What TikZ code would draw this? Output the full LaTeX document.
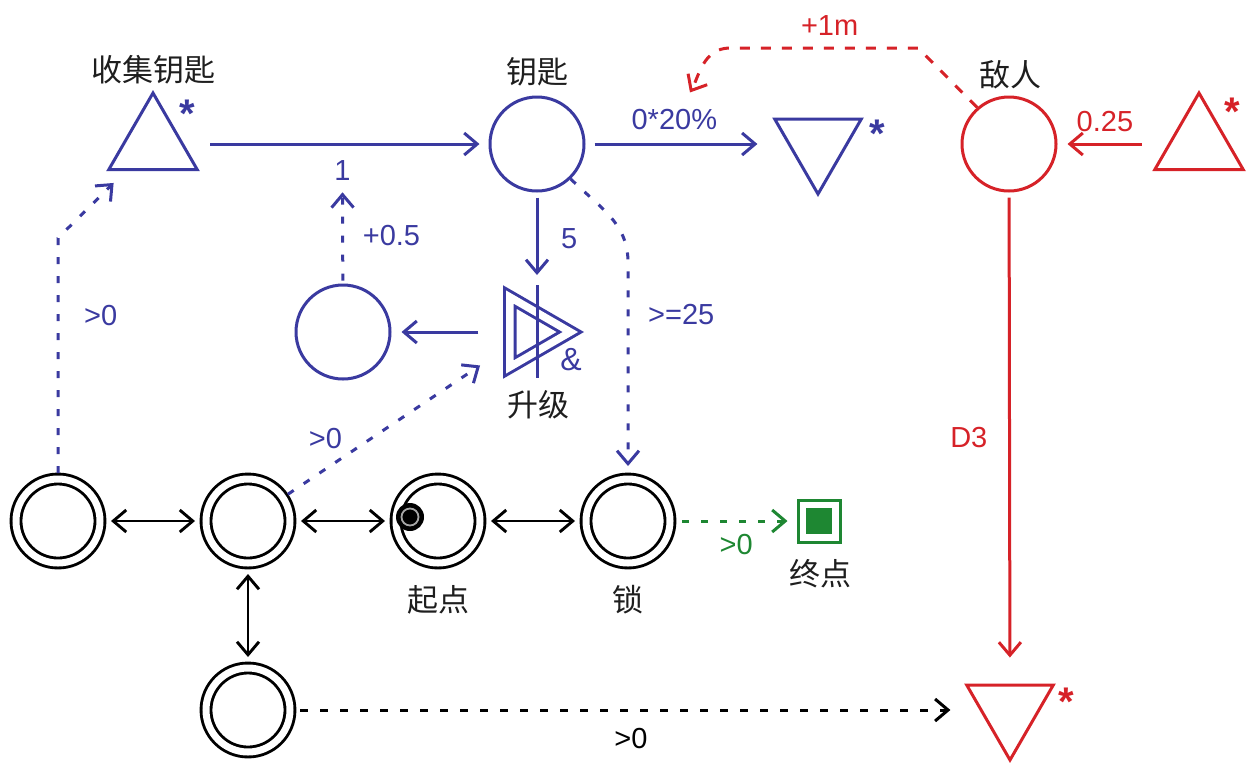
\documentclass[tikz,border=0pt]{standalone}
\usepackage{fontspec}
\setmainfont{Liberation Sans}
\newfontfamily\cjk{Noto Sans CJK SC}
\usetikzlibrary{arrows.meta,shapes.geometric}

\definecolor{mblue}{RGB}{58,58,160}
\definecolor{mred}{RGB}{214,34,40}
\definecolor{mgreen}{RGB}{30,135,50}
\definecolor{mtext}{RGB}{30,30,30}

\begin{document}
\begin{tikzpicture}[
    x=0.5pt, y=-0.5pt,
    >={Straight Barb[length=6.5pt,width=11pt]},
    lbl/.style={font=\fontsize{14.5}{16}\selectfont},
    ttl/.style={font=\cjk\fontsize{15.5}{17}\selectfont, text=mtext},
    star/.style={font=\fontsize{20}{20}\selectfont\bfseries, inner sep=0pt, anchor=north},
    pool/.style={
        circle, draw, line width=1.45pt, double, double distance=3.5pt,
        minimum size=42pt, inner sep=0pt, outer sep=3pt
    },
    res/.style={circle, draw, line width=1.5pt, minimum size=47pt, inner sep=0pt},
    src/.style={
        regular polygon, regular polygon sides=3, draw, line width=1.5pt,
        minimum size=51pt, inner sep=0pt
    },
    drn/.style={src, shape border rotate=180},
    goal/.style={rectangle, draw=mgreen, line width=1.5pt, minimum size=21pt, inner sep=0pt},
    startmk/.style={circle, fill=black, minimum size=14pt, inner sep=0pt},
    flow/.style={->, line width=1.5pt},
    state/.style={->, line width=1.5pt, dash pattern=on 3.5pt off 6pt},
    link/.style={<->, line width=1.45pt, shorten <=2.5pt, shorten >=2.5pt},
]
\useasboundingbox (0,0) rectangle (1247,762);

% top row
\node [src, mblue] (collect) at (153,144) {};
\node [res, mblue] (keys) at (537,144) {};
\node [drn, mblue, minimum size=50pt] (spend) at (818,144) {};
\node [res, mred] (enemy) at (1009,144) {};
\node [src, mred] (spawn) at (1199,144) {};

% middle
\node [res, mblue] (bonus) at (343,332) {};
\node [src, mblue, shape border rotate=-90, double, double distance=3.8pt,
       minimum size=40.4pt] (gate) at (530,332) {};
\coordinate (gtop) at (537,285);
\coordinate (gbot) at (537,378);
\draw [mblue, line width=1.5pt] (gtop) -- (gbot);
\node [mblue, font=\fontsize{16}{16}\selectfont] (amp) at (571,360) {\&};

% bottom row
\node [pool] (p1) at (58,521) {};
\node [pool] (p2) at (248,521) {};
\node [pool] (p3) at (438,521) {};
\node [pool] (lock) at (628,521) {};
\node [pool] (p5) at (248,710) {};
\node [drn, mred, minimum size=50pt] (sink) at (1010,710) {};
\node [goal] (goal) at (819,521) {};
\node [fill=mgreen, minimum size=13pt, inner sep=0pt] (goalin) at (goal) {};
\node [startmk] (st) at (410,517) {};
\node [startmk, draw=gray!70, line width=0.9pt, minimum size=8.5pt] (stin) at (st) {};

% captions
\node [ttl] (tcollect) at (153,70) {收集钥匙};
\node [ttl] (tkeys) at (537,72) {钥匙};
\node [ttl] (tenemy) at (1010,75) {敌人};
\node [ttl] (tgate) at (538,405) {升级};
\node [ttl] (tstart) at (438,600) {起点};
\node [ttl] (tlock) at (628,600) {锁};
\node [ttl] (tgoal) at (820,574) {终点};

\node [star, mblue] (s1) at (187,100) {*};
\node [star, mblue] (s2) at (877,120) {*};
\node [star, mred] (s3) at (1232,98) {*};
\node [star, mred] (s4) at (1066,688) {*};

% resource flows
\draw [flow, mblue, shorten <=13pt, shorten >=4.5pt] (collect) -- node [pos=0.52, below=4pt, lbl] (r1) {1} (keys);
\draw [flow, mblue, shorten <=4.5pt, shorten >=15pt] (keys) -- node [pos=0.44, above=3pt, lbl] (pct) {0*20\%} (spend);
\draw [flow, mred, shorten <=13pt, shorten >=5pt] (spawn) -- node [pos=0.57, above=2pt, lbl] (r3) {0.25} (enemy);
\draw [flow, mred, shorten <=2.5pt, shorten >=13pt] (enemy) -- node [left=7pt, lbl] (r4) {D3} (sink);
\draw [flow, mblue, shorten <=2.5pt, shorten >=5pt] (keys) -- node [right=8pt, lbl] (r5) {5} (gtop);
\draw [flow, mblue, shorten <=15pt, shorten >=5pt] (gate) -- (bonus);

% state connections
\draw [state, mblue, shorten <=1.5pt, shorten >=2pt] (bonus) -- node [right=6pt, lbl] (m1) {+0.5} (r1);
\draw [state, mblue, shorten >=3.5pt] (keys.-46) to [out=-45, in=90] (628,262)
    -- node [pos=0.25, right=6pt, lbl] (m2) {>=25} (lock);
\draw [state, mblue, shorten >=8.5pt] (p1) -- node [pos=0.67, right=9pt, lbl] (m3) {>0} (58,238) -- (collect);
\draw [state, mblue, shorten >=17pt] (p2) -- node [pos=0.17, above=6pt, lbl] (m4) {>0} (gate);
\draw [->, mred, line width=1.5pt, dash pattern=on 5pt off 5.5pt, shorten >=5pt]
    (enemy.131) -- (918,48) -- node [pos=0.47, above=2pt, lbl] (m5) {+1m} (730,48)
    to [out=180, in=60] (pct);
\draw [state, mgreen, shorten <=3pt, shorten >=4.5pt] (lock) -- node [below=2.5pt, lbl] (m6) {>0} (goal);
\draw [state, black, dash pattern=on 4pt off 6pt, shorten <=2pt, shorten >=14.5pt] (p5) -- node [pos=0.49, below=5pt, lbl] (m7) {>0} (sink);

% pool links
\draw [link] (p1) -- (p2);
\draw [link] (p2) -- (p3);
\draw [link] (p3) -- (lock);
\draw [link] (p2) -- (p5);

\end{tikzpicture}
\end{document}
